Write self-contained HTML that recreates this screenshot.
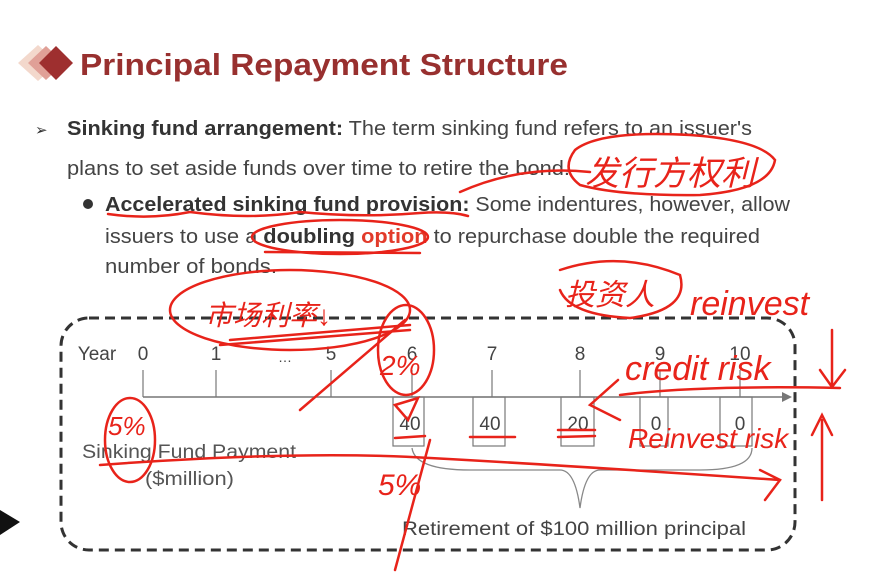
<!DOCTYPE html>
<html><head><meta charset="utf-8"><style>
html,body{margin:0;padding:0;background:#fff;width:874px;height:576px;overflow:hidden}
svg{display:block}
.t{font-family:"Liberation Sans","Noto Sans CJK SC",sans-serif}
</style></head><body>
<svg width="874" height="576" viewBox="0 0 874 576" xmlns="http://www.w3.org/2000/svg">
<rect width="874" height="576" fill="#fff"/>
<polygon points="38,45 58,63 38,81 18,63" fill="#f3d8cc"/>
<polygon points="46,46 64,63 46,80 28,63" fill="#e0a097"/>
<polygon points="56,46 73,63 56,80 39,63" fill="#9e2f2f"/>
<text x="80" y="75" class="t" font-size="31" font-weight="bold" fill="#98302f" textLength="488" lengthAdjust="spacingAndGlyphs">Principal Repayment Structure</text>
<text x="35" y="135" class="t" font-size="15" fill="#333">➢</text>
<g class="t" font-size="20" fill="#444">
<text x="67" y="135" textLength="685" lengthAdjust="spacingAndGlyphs"><tspan font-weight="bold" fill="#333">Sinking fund arrangement:</tspan> The term sinking fund refers to an issuer's</text>
<text x="67" y="175" textLength="503" lengthAdjust="spacingAndGlyphs">plans to set aside funds over time to retire the bond.</text>
<text x="105" y="211" textLength="685" lengthAdjust="spacingAndGlyphs"><tspan font-weight="bold" fill="#333">Accelerated sinking fund provision:</tspan> Some indentures, however, allow</text>
<text x="105" y="243" textLength="655" lengthAdjust="spacingAndGlyphs">issuers to use a <tspan font-weight="bold" fill="#333">doubling</tspan> <tspan font-weight="bold" fill="#e23a2a">option</tspan> to repurchase double the required</text>
<text x="105" y="273" textLength="172" lengthAdjust="spacingAndGlyphs">number of bonds.</text>
</g>
<circle cx="88" cy="204" r="5" fill="#333"/>
<rect x="61" y="318" width="734" height="232" rx="28" fill="none" stroke="#333" stroke-width="3" stroke-dasharray="10,6"/>
<line x1="143" y1="397" x2="784" y2="397" stroke="#777" stroke-width="1.5"/>
<polygon points="792,397 782,392 782,402" fill="#777"/>
<g stroke="#777" stroke-width="1.2">
<line x1="143" y1="370" x2="143" y2="397"/><line x1="216" y1="370" x2="216" y2="397"/>
<line x1="331" y1="370" x2="331" y2="397"/><line x1="412" y1="370" x2="412" y2="397"/>
<line x1="492" y1="370" x2="492" y2="397"/><line x1="580" y1="370" x2="580" y2="397"/>
<line x1="660" y1="370" x2="660" y2="397"/><line x1="740" y1="370" x2="740" y2="397"/>
</g>
<g class="t" font-size="19" fill="#444" text-anchor="middle">
<text x="97" y="360">Year</text><text x="143" y="360">0</text><text x="216" y="360">1</text>
<text x="285" y="362" font-size="14">…</text><text x="331" y="360">5</text><text x="412" y="360">6</text>
<text x="492" y="360">7</text><text x="580" y="360">8</text><text x="660" y="360">9</text><text x="740" y="360">10</text>
</g>
<g fill="none" stroke="#777" stroke-width="1.2">
<rect x="393" y="397" width="31" height="49"/><rect x="473" y="397" width="32" height="49"/>
<rect x="561" y="397" width="33" height="49"/><rect x="640" y="397" width="28" height="49"/>
<rect x="720" y="397" width="32" height="49"/>
</g>
<g class="t" font-size="19" fill="#444" text-anchor="middle">
<text x="410" y="430">40</text><text x="490" y="430">40</text><text x="578" y="430">20</text>
<text x="656" y="430">0</text><text x="740" y="430">0</text>
</g>
<text x="82" y="458" class="t" font-size="19" fill="#555" textLength="214" lengthAdjust="spacingAndGlyphs">Sinking Fund Payment</text>
<text x="145" y="485" class="t" font-size="19" fill="#555" textLength="89" lengthAdjust="spacingAndGlyphs">($million)</text>
<path d="M412,448 Q415,470 470,470 L560,470 Q575,470 580,508 Q585,470 600,470 L700,470 Q752,470 752,448" fill="none" stroke="#888" stroke-width="1.3"/>
<text x="402" y="535" class="t" font-size="19" fill="#444" textLength="344" lengthAdjust="spacingAndGlyphs">Retirement of $100 million principal</text>
<polygon points="0,510 20,522 0,535" fill="#111"/>
<g fill="none" stroke="#e8231a" stroke-width="2.5" stroke-linecap="round">
<path d="M108,214 Q150,220 190,212 Q250,220 300,212 Q360,218 420,213 Q450,211 468,216"/>
<ellipse cx="340" cy="237" rx="88" ry="17"/>
<path d="M265,252 L420,253"/>
<path d="M575,150 Q600,130 690,135 Q760,140 775,160 Q770,190 700,195 Q620,196 580,185 Q560,170 575,150"/>
<path d="M460,192 Q520,165 590,172"/>
<ellipse cx="290" cy="310" rx="120" ry="40"/>
<path d="M220,345 L410,330"/><path d="M230,340 L410,325"/>
<ellipse cx="406" cy="350" rx="28" ry="45"/>
<path d="M405,320 L300,410"/>
<path d="M560,270 Q620,250 680,275 Q690,310 630,318 Q570,315 560,290"/>
<ellipse cx="130" cy="440" rx="25" ry="42"/>
<path d="M100,465 Q300,450 430,458 Q560,465 780,480"/>
<path d="M760,470 L780,480 L765,500"/>
<path d="M430,440 L395,570"/>
<path d="M618,380 L590,405 L620,420"/>
<path d="M620,395 Q700,385 840,388"/>
<path d="M832,330 L832,385 M820,370 L832,387 L845,370"/>
<path d="M822,500 L822,420 M812,435 L822,415 L832,435"/>
<path d="M395,405 L418,398 L408,420 Z"/>
<path d="M395,438 L425,436 M470,437 L515,437 M558,430 L595,430 M558,437 L595,436"/>
</g>
<g class="t" fill="#e8231a" font-size="34" font-style="italic">
<text x="585" y="185">发行方权利</text>
<text x="205" y="325" font-size="28">市场利率↓</text>
<text x="565" y="305" font-size="30">投资人</text>
<text x="690" y="315">reinvest</text>
<text x="625" y="380">credit risk</text>
<text x="628" y="448" font-size="28">Reinvest risk</text>
<text x="380" y="375" font-size="28">2%</text>
<text x="378" y="495" font-size="30">5%</text>
<text x="108" y="435" font-size="26">5%</text>
</g>
</svg>
</body></html>
